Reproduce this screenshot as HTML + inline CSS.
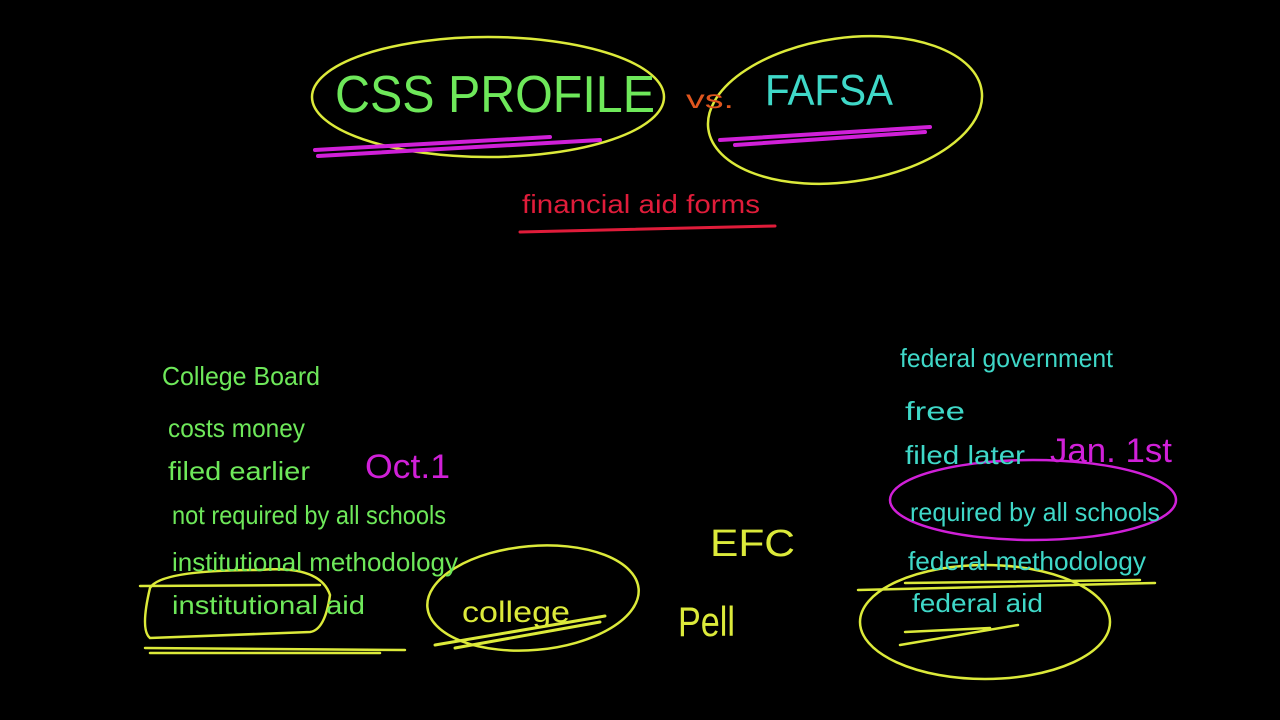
<!DOCTYPE html>
<html><head><meta charset="utf-8"><style>
html,body{margin:0;padding:0;background:#000;width:1280px;height:720px;overflow:hidden}
svg text{font-family:"Liberation Sans",sans-serif}
</style></head><body>
<svg width="1280" height="720" viewBox="0 0 1280 720" xmlns="http://www.w3.org/2000/svg">
<rect width="1280" height="720" fill="#000"/>
<g fill="none" stroke-linecap="round">
<ellipse cx="488" cy="97" rx="176" ry="60" stroke="#dcea3a" stroke-width="2.5"/>
<ellipse cx="845" cy="110" rx="138" ry="72" stroke="#dcea3a" stroke-width="2.5" transform="rotate(-8 845 110)"/>
<path d="M315 150 L550 137 M318 156 L600 140" stroke="#d020d8" stroke-width="4"/>
<path d="M720 140 L930 127 M735 145 L925 132" stroke="#d020d8" stroke-width="4"/>
<path d="M520 232 L775 226" stroke="#e01c3a" stroke-width="3"/>
<path d="M150 588 Q160 570 260 570 Q320 565 330 595 Q325 630 310 632 L150 638 Q140 630 150 588 Z" stroke="#dcea3a" stroke-width="2.5"/>
<path d="M140 586 L320 585 M145 648 L405 650 M150 653 L380 653" stroke="#dcea3a" stroke-width="2.5"/>
<ellipse cx="533" cy="598" rx="106" ry="52" stroke="#dcea3a" stroke-width="2.5" transform="rotate(-5 533 598)"/>
<path d="M435 645 L605 616 M455 648 L600 622" stroke="#dcea3a" stroke-width="3"/>
<ellipse cx="1033" cy="500" rx="143" ry="40" stroke="#d020d8" stroke-width="2.5"/>
<ellipse cx="985" cy="622" rx="125" ry="57" stroke="#dcea3a" stroke-width="2.5"/>
<path d="M858 590 L1155 583 M905 583 L1140 580" stroke="#dcea3a" stroke-width="2.5"/>
<path d="M900 645 L1018 625 M905 632 L990 628" stroke="#dcea3a" stroke-width="2.5"/>
</g>
<g lengthAdjust="spacingAndGlyphs">
<text x="335" y="112" font-size="52" fill="#6ee85a" textLength="320" lengthAdjust="spacingAndGlyphs">CSS PROFILE</text>
<text x="686" y="108" font-size="26" fill="#e0561e" textLength="48" lengthAdjust="spacingAndGlyphs">vs.</text>
<text x="765" y="105" font-size="44" fill="#3fd8c8" textLength="128" lengthAdjust="spacingAndGlyphs">FAFSA</text>
<text x="522" y="213" font-size="26" fill="#e01c3a" textLength="238" lengthAdjust="spacingAndGlyphs">financial aid forms</text>
<g fill="#6ee85a" font-size="26">
<text x="162" y="385" textLength="158" lengthAdjust="spacingAndGlyphs">College Board</text>
<text x="168" y="437" textLength="137" lengthAdjust="spacingAndGlyphs">costs money</text>
<text x="168" y="480" textLength="142" lengthAdjust="spacingAndGlyphs">filed earlier</text>
<text x="172" y="524" textLength="274" lengthAdjust="spacingAndGlyphs">not required by all schools</text>
<text x="172" y="571" textLength="286" lengthAdjust="spacingAndGlyphs">institutional methodology</text>
<text x="172" y="614" textLength="193" lengthAdjust="spacingAndGlyphs">institutional aid</text>
</g>
<text x="365" y="478" font-size="34" fill="#d020d8" textLength="85" lengthAdjust="spacingAndGlyphs">Oct.1</text>
<text x="462" y="622" font-size="30" fill="#dcea3a" textLength="108" lengthAdjust="spacingAndGlyphs">college</text>
<text x="710" y="556" font-size="38" fill="#dcea3a" textLength="85" lengthAdjust="spacingAndGlyphs">EFC</text>
<text x="678" y="636" font-size="42" fill="#dcea3a" textLength="57" lengthAdjust="spacingAndGlyphs">Pell</text>
<g fill="#3fd8c8" font-size="26">
<text x="900" y="367" textLength="213" lengthAdjust="spacingAndGlyphs">federal government</text>
<text x="905" y="420" textLength="60" lengthAdjust="spacingAndGlyphs">free</text>
<text x="905" y="464" textLength="120" lengthAdjust="spacingAndGlyphs">filed later</text>
<text x="910" y="521" textLength="250" lengthAdjust="spacingAndGlyphs">required by all schools</text>
<text x="908" y="570" textLength="238" lengthAdjust="spacingAndGlyphs">federal methodology</text>
<text x="912" y="612" textLength="131" lengthAdjust="spacingAndGlyphs">federal aid</text>
</g>
<text x="1050" y="462" font-size="34" fill="#d020d8" textLength="122" lengthAdjust="spacingAndGlyphs">Jan. 1st</text>
</g>
</svg>
</body></html>
